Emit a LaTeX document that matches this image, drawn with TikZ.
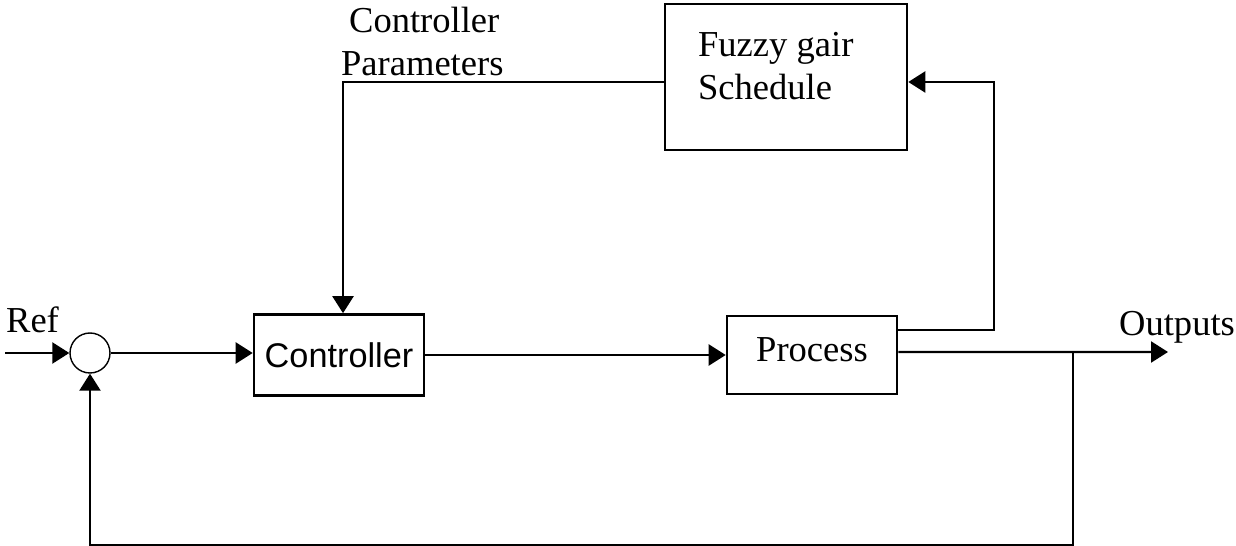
\documentclass[tikz,border=0pt]{standalone}
\usepackage{fontspec}
\setmainfont{Liberation Serif}
\setsansfont{Liberation Sans}
\usepackage{tikz}
\usetikzlibrary{arrows.meta,positioning}

\begin{document}
\begin{tikzpicture}[x=0.02cm,y=-0.02cm,
        font=\fontsize{20.8}{24.4}\selectfont,
        line width=1.3pt,
        block/.style={rectangle,draw,line width=1.5pt,inner sep=0pt},
        sumnode/.style={circle,draw,line width=0.8pt,minimum size=0.8cm,inner sep=0pt},
        >={Triangle[length=0.34cm,width=0.42cm]}]
        \useasboundingbox (0,0) rectangle (1236,546);
        \node[block,minimum width=4.84cm,minimum height=2.92cm] (fuzzy) at (786,77) {};
        \node[anchor=north west,align=left,inner sep=0pt] (fuzzytext) at (697,31) {Fuzzy gair\\Schedule};
        \node[block,minimum width=3.4cm,minimum height=1.62cm,font=\sffamily\fontsize{19.5}{22}\selectfont] (ctrl) at (339,355) {Controller};
        \node[block,minimum width=3.4cm,minimum height=1.56cm] (proc) at (812,355) {\raisebox{0.2cm}{Process}};
        \node[sumnode] (sum) at (90,353) {};
        \node[anchor=north west,align=left,inner sep=0pt] (params) at (340,6) {\hspace{0.16cm}Controller\\Parameters};
        \node[anchor=south west,inner sep=0pt] (ref) at (5,334) {Ref};
        \node[anchor=south west,inner sep=0pt] (outlbl) at (1118,344) {Outputs};
        \coordinate (in) at (5,353);
        \coordinate (out) at (1168,352);
        \coordinate (branch) at (1073,352);
        % forward path
        \draw[->] (in) -- (sum.west);
        \draw[->] (sum.east) -- (sum.east -| ctrl.west);
        \draw[->] (ctrl.east) -- (proc.west);
        \draw[->] ([yshift=0.06cm]proc.east) -- (out);
        % feedback
        \draw[->] (branch) -- ++(0,193) -| (sum.south);
        % gain schedule loop
        \draw[->] ([yshift=0.5cm]proc.east) -- ++(96,0) |- ([yshift=-0.1cm]fuzzy.east);
        \draw[->] ([yshift=-0.1cm]fuzzy.west) -| ([xshift=0.08cm]ctrl.north);
    \end{tikzpicture}
\end{document}
